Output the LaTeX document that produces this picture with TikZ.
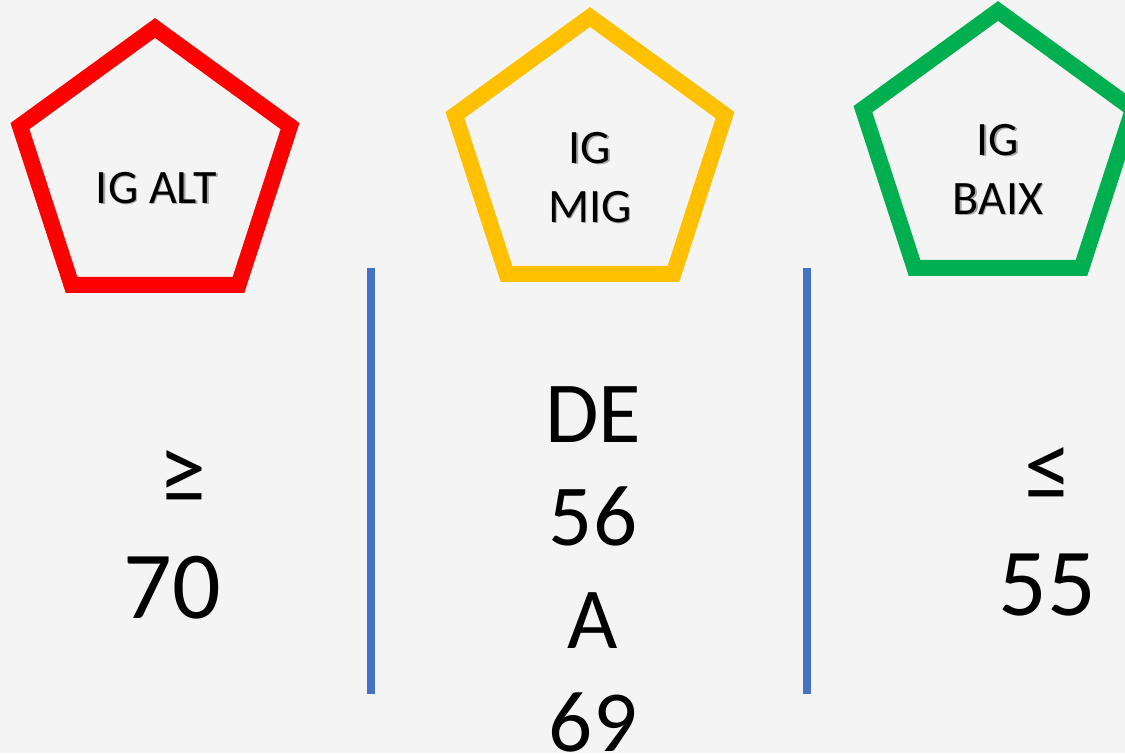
\documentclass[tikz,border=0pt]{standalone}
\usepackage{fontspec}
\setmainfont{Carlito}
\usetikzlibrary{shapes.geometric}

\definecolor{bgpage}{HTML}{F4F4F4}
\definecolor{pentred}{HTML}{FF0000}
\definecolor{pentyellow}{HTML}{FFC000}
\definecolor{pentgreen}{HTML}{00B050}
\definecolor{divider}{HTML}{4472C4}

\tikzset{
  pent/.style={regular polygon, regular polygon sides=5, minimum size=284pt,
    inner sep=0pt, line width=16pt, draw=#1},
  % multi-line nodes: the base anchor sits on the last line's baseline
  label/.style={font=\fontsize{48pt}{59pt}\selectfont, align=center,
    anchor=base, inner sep=0pt},
  labelshadow/.style={label, text=black!35},
  bignum/.style={font=\fontsize{96pt}{116pt}\selectfont, anchor=base, inner sep=0pt},
  midnum/.style={font=\fontsize{87pt}{102.7pt}\selectfont, align=center,
    anchor=base, inner sep=0pt},
  rule/.style={draw=divider, line width=7.5pt},
}

\begin{document}
\begin{tikzpicture}[x=1pt, y=-1pt]
  % page
  \fill[bgpage] (0,0) rectangle (1125,753);
  \useasboundingbox (0,0) rectangle (1125,753);

  % the three pentagons
  \node[pent=pentred]    (alt)  at (155,170) {};
  \node[pent=pentyellow] (mig)  at (590,159) {};
  \node[pent=pentgreen]  (baix) at (998,153) {};

  % pentagon captions with a soft drop shadow
  \node[labelshadow] at (158,204.5) {IG ALT};
  \node[label] (altlabel) at (156.5,203) {IG ALT};
  \node[labelshadow] at (591.5,223.5) {IG\\MIG};
  \node[label] (miglabel) at (590,222) {IG\\MIG};
  \node[labelshadow] at (999.5,215.5) {IG\\BAIX};
  \node[label] (baixlabel) at (998,214) {IG\\BAIX};

  % dividing rules
  \coordinate (r1top) at (371,268);
  \coordinate (r1bot) at (371,694);
  \coordinate (r2top) at (807,268);
  \coordinate (r2bot) at (807,694);
  \draw[rule] (r1top) -- (r1bot);
  \draw[rule] (r2top) -- (r2bot);

  % thresholds
  \node[bignum] (geq) at (182,503) {≥};
  \node[bignum] (seventy) at (172,618) {70};
  \node[midnum] (range) at (593,751) {DE\\56\\A\\69};
  \node[bignum] (leq) at (1048,500) {≤};
  \node[bignum] (fiftyfive) at (1047,615) {55};
\end{tikzpicture}
\end{document}
